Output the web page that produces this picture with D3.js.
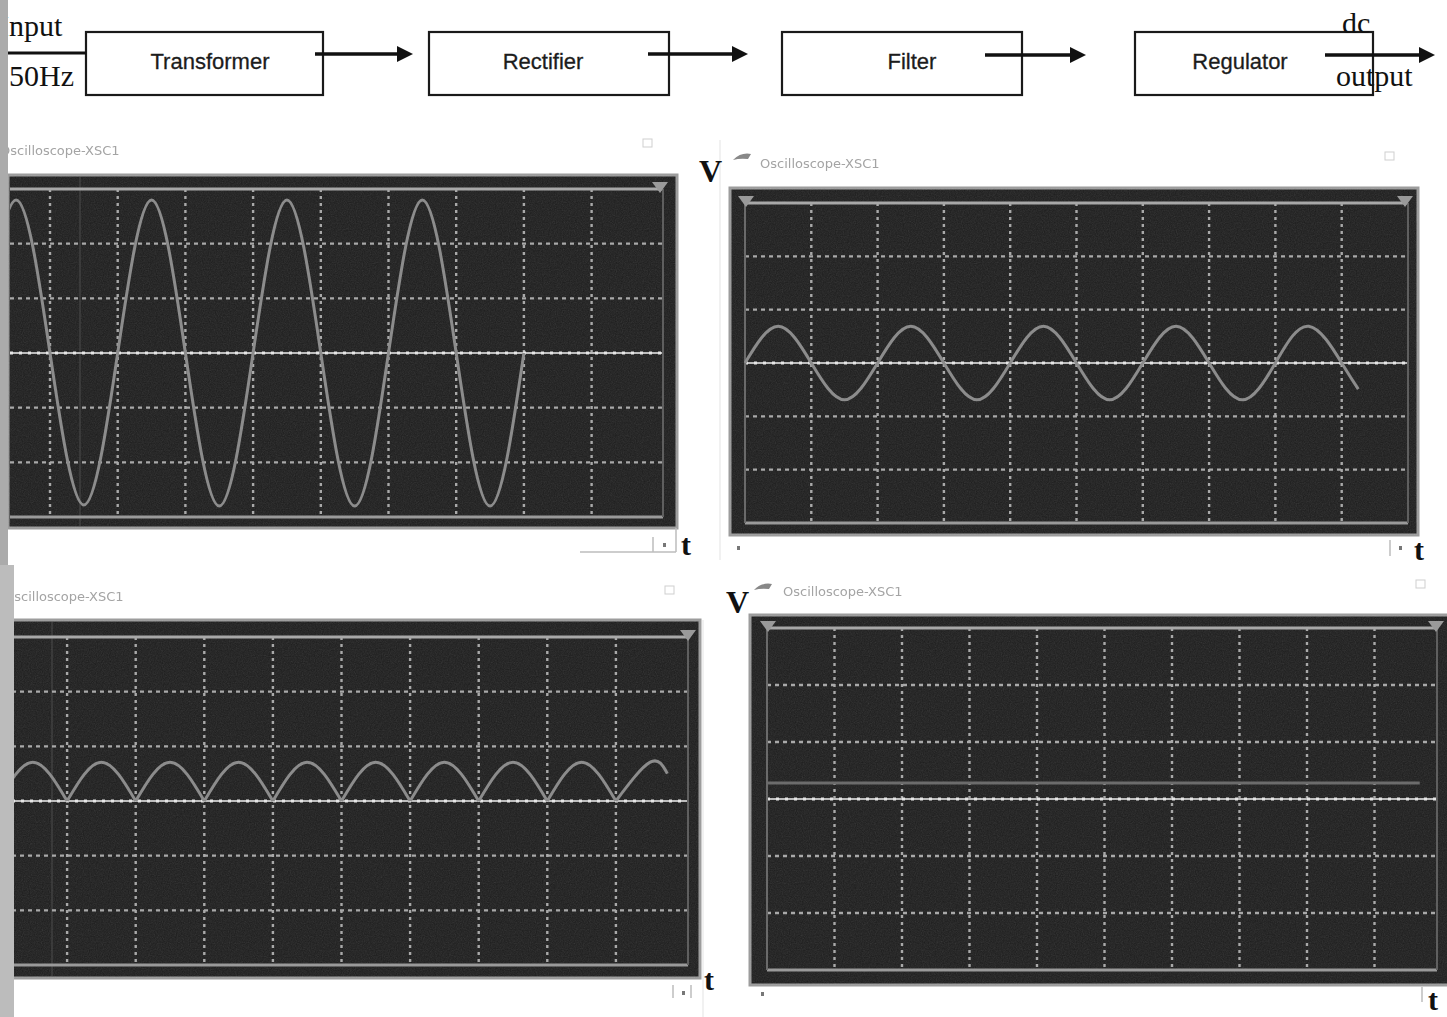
<!DOCTYPE html>
<html>
<head>
<meta charset="utf-8">
<script src="https://cdn.jsdelivr.net/npm/d3@7"></script>
<style>
  body { margin: 0; background: #fff; }
  svg { display: block; }
</style>
</head>
<body>
<div id="chart"></div>
<script>
// block diagram
const blockLabels = ["Transformer", "Rectifier", "Filter", "Regulator"];
const scopeTitle = "Oscilloscope-XSC1";

const inputTrace = [[0,0],[0.5,2.8],[1,0],[1.5,-2.78],[2,0],[2.5,2.8],[3,0],[3.5,-2.8],[4,0],
  [4.5,2.8],[5,0],[5.5,-2.8],[6,0],[6.5,2.8],[7,0],[7.5,-2.8],[8,0]];
const transformerTrace = [[0,0],[0.5,0.69],[1,0],[1.5,-0.69],[2,0],[2.5,0.69],[3,0],[3.5,-0.69],
  [4,0],[4.5,0.69],[5,0],[5.5,-0.69],[6,0],[6.5,0.69],[7,0],[7.5,-0.69],[8,0],[8.5,0.69],[9,0],[9.25,-0.49]];
const rectifierTrace = [[0,0],[0.5,0.71],[1,0],[1.5,0.71],[2,0],[2.5,0.71],[3,0],[3.5,0.71],[4,0],
  [4.5,0.71],[5,0],[5.5,0.71],[6,0],[6.5,0.71],[7,0],[7.5,0.71],[8,0],[8.5,0.71],[9,0],[9.5,0.71],[9.75,0.5]];
const regulatorTrace = [[0,0.28],[9.67,0.28]];

const W = 1447, H = 1017;

const svg = d3.select("#chart").append("svg")
  .attr("width", W)
  .attr("height", H)
  .attr("viewBox", `0 0 ${W} ${H}`);

const defs = svg.append("defs");
const grain = defs.append("filter").attr("id", "grain")
  .attr("x", 0).attr("y", 0).attr("width", 1).attr("height", 1);
grain.append("feTurbulence").attr("type", "fractalNoise").attr("baseFrequency", 0.85)
  .attr("numOctaves", 2).attr("seed", 4);
grain.append("feColorMatrix").attr("type", "saturate").attr("values", 0);
grain.append("feComponentTransfer").append("feFuncA").attr("type", "table").attr("tableValues", "0 0.16");

defs.append("filter").attr("id", "soft").append("feGaussianBlur").attr("stdDeviation", 0.7);

// ---------- block diagram ----------
const boxes = [[86, 32, 323, 95], [429, 32, 669, 95], [782, 32, 1022, 95], [1135, 32, 1373, 95]];
const labelX = [210, 543, 912, 1240];
const arrows = [[315, 413, 54], [648, 748, 54], [985, 1086, 55], [1325, 1435, 55]];

const diagram = svg.append("g").attr("class", "diagram");

diagram.selectAll("rect.block")
  .data(boxes)
  .join("rect")
  .attr("class", "block")
  .attr("x", d => d[0]).attr("y", d => d[1])
  .attr("width", d => d[2] - d[0]).attr("height", d => d[3] - d[1])
  .attr("fill", "none").attr("stroke", "#1a1a1a").attr("stroke-width", 2.2);

diagram.selectAll("text.blockLabel")
  .data(blockLabels)
  .join("text")
  .attr("class", "blockLabel")
  .attr("x", (d, i) => labelX[i]).attr("y", 69)
  .attr("text-anchor", "middle")
  .attr("font-family", "Liberation Sans, Arial, sans-serif")
  .attr("font-size", 22)
  .attr("fill", "#1c1c1c")
  .attr("stroke", "#1c1c1c").attr("stroke-width", 0.3)
  .text(d => d);

// input line
diagram.append("line").attr("x1", 0).attr("x2", 86).attr("y1", 53).attr("y2", 53)
  .attr("stroke", "#111").attr("stroke-width", 3);

arrows.forEach(a => {
  diagram.append("line").attr("x1", a[0]).attr("x2", a[1] - 12).attr("y1", a[2]).attr("y2", a[2])
    .attr("stroke", "#111").attr("stroke-width", 3.5);
  diagram.append("path")
    .attr("d", `M${a[1]},${a[2]} L${a[1] - 16},${a[2] - 8} L${a[1] - 16},${a[2] + 8} Z`)
    .attr("fill", "#111");
});

const serif = "Liberation Serif, Times New Roman, serif";
diagram.append("text").attr("x", -1).attr("y", 36).attr("font-family", serif).attr("font-size", 30)
  .attr("fill", "#111").text("Input");
diagram.append("text").attr("x", 9).attr("y", 86).attr("font-family", serif).attr("font-size", 30)
  .attr("fill", "#111").text("50Hz");
diagram.append("text").attr("x", 1342).attr("y", 33).attr("font-family", serif).attr("font-size", 30)
  .attr("fill", "#111").text("dc");
diagram.append("text").attr("x", 1336).attr("y", 86).attr("font-family", serif).attr("font-size", 30)
  .attr("fill", "#111").text("output");

// ---------- oscilloscope screens ----------
const scopes = [
  { trace: inputTrace, frame: [8, 175, 677, 528], xr: [-17.7, 659.3], yr: [517, 189],
    rightEdge: 663, leftEdge: null, markers: [660], cursor: 80,
    title: [0, 155], icon: null, closeBox: [643, 139] },
  { trace: transformerTrace, frame: [730, 188, 1418, 535], xr: [745, 1408], yr: [523, 203],
    rightEdge: 1408, leftEdge: 745, markers: [746, 1405], cursor: null,
    title: [760, 168], icon: [733, 160], closeBox: [1385, 152] },
  { trace: rectifierTrace, cusps: true, frame: [10, 620, 700, 978], xr: [-1.5, 684.5], yr: [965, 637],
    rightEdge: 688, leftEdge: null, markers: [688], cursor: 52,
    title: [4, 601], icon: null, closeBox: [665, 586] },
  { trace: regulatorTrace, frame: [750, 615, 1452, 985], xr: [767, 1442], yr: [970, 628],
    rightEdge: 1437, leftEdge: 767, markers: [768, 1436], cursor: null, dim: true,
    title: [783, 596], icon: [754, 590], closeBox: [1416, 580] }
];

scopes.forEach((s, k) => {
  const g = svg.append("g").attr("class", "scope scope" + k);
  const [fx0, fy0, fx1, fy1] = s.frame;
  const x = d3.scaleLinear().domain([0, 10]).range(s.xr);
  const y = d3.scaleLinear().domain([-3, 3]).range(s.yr);

  const clipId = "clip" + k;
  defs.append("clipPath").attr("id", clipId)
    .append("rect").attr("x", fx0 + 2).attr("y", fy0 + 2)
    .attr("width", fx1 - fx0 - 4).attr("height", fy1 - fy0 - 4);

  // title
  if (s.icon) {
    g.append("path")
      .attr("d", `M${s.icon[0]},${s.icon[1]} q8,-8 18,-6 l-3,5 q-8,-1 -15,1 z`)
      .attr("fill", "#888");
  }
  g.append("text").attr("x", s.title[0]).attr("y", s.title[1])
    .attr("font-family", "DejaVu Sans, sans-serif").attr("font-size", 13)
    .attr("fill", "#a4a4a4").attr("filter", "url(#soft)")
    .text(scopeTitle);
  g.append("rect").attr("x", s.closeBox[0]).attr("y", s.closeBox[1]).attr("width", 9).attr("height", 8)
    .attr("fill", "none").attr("stroke", "#cfcfcf").attr("stroke-width", 1);

  // frame
  g.append("rect").attr("x", fx0).attr("y", fy0).attr("width", fx1 - fx0).attr("height", fy1 - fy0)
    .attr("fill", "#1c1c1c").attr("stroke", "#9c9c9c").attr("stroke-width", 3);
  g.append("rect").attr("x", fx0).attr("y", fy0).attr("width", fx1 - fx0).attr("height", fy1 - fy0)
    .attr("fill", "#fff").attr("filter", "url(#grain)");

  const screen = g.append("g").attr("clip-path", `url(#${clipId})`).attr("filter", "url(#soft)");
  const plotL = Math.max(s.xr[0], fx0 + 2), plotR = s.rightEdge;

  if (s.cursor) {
    screen.append("line").attr("x1", s.cursor).attr("x2", s.cursor).attr("y1", fy0).attr("y2", fy1)
      .attr("stroke", "#4a4a4a").attr("stroke-width", 1);
  }

  // vertical grid
  screen.selectAll("line.vgrid")
    .data(d3.range(1, 10))
    .join("line")
    .attr("class", "vgrid")
    .attr("x1", d => x(d)).attr("x2", d => x(d))
    .attr("y1", y(3)).attr("y2", y(-3))
    .attr("stroke", "#a9a9a9").attr("stroke-width", 2.4)
    .attr("stroke-dasharray", "3,4");

  // horizontal grid
  screen.selectAll("line.hgrid")
    .data([-2, -1, 1, 2])
    .join("line")
    .attr("class", "hgrid")
    .attr("x1", plotL).attr("x2", plotR)
    .attr("y1", d => y(d)).attr("y2", d => y(d))
    .attr("stroke", "#a9a9a9").attr("stroke-width", 2.4)
    .attr("stroke-dasharray", "4,4");

  // centre line
  screen.append("line").attr("x1", plotL).attr("x2", plotR).attr("y1", y(0)).attr("y2", y(0))
    .attr("stroke", "#bdbdbd").attr("stroke-width", 2.2);
  screen.append("line").attr("x1", plotL).attr("x2", plotR).attr("y1", y(0)).attr("y2", y(0))
    .attr("stroke", "#e6e6e6").attr("stroke-width", 3).attr("stroke-dasharray", "3,6");

  // top / bottom / side edges
  screen.append("line").attr("x1", plotL).attr("x2", plotR).attr("y1", y(3)).attr("y2", y(3))
    .attr("stroke", "#a8a8a8").attr("stroke-width", 3);
  screen.append("line").attr("x1", plotL).attr("x2", plotR).attr("y1", y(-3)).attr("y2", y(-3))
    .attr("stroke", "#9a9a9a").attr("stroke-width", 3);
  screen.append("line").attr("x1", plotR).attr("x2", plotR).attr("y1", y(3)).attr("y2", y(-3))
    .attr("stroke", "#5e5e5e").attr("stroke-width", 2);
  if (s.leftEdge) {
    screen.append("line").attr("x1", s.leftEdge).attr("x2", s.leftEdge).attr("y1", y(3)).attr("y2", y(-3))
      .attr("stroke", "#6a6a6a").attr("stroke-width", 2);
  }

  // trigger markers
  s.markers.forEach(m => {
    screen.append("path")
      .attr("d", `M${m - 8},${y(3) - 7} L${m + 8},${y(3) - 7} L${m},${y(3) + 4} Z`)
      .attr("fill", "#9a9a9a");
  });

  // trace
  const line = d3.line().x(d => x(d[0])).y(d => y(d[1])).curve(d3.curveNatural);
  let pieces = [s.trace];
  if (s.cusps) {
    pieces = [];
    let cur = [];
    s.trace.forEach((p, i) => {
      cur.push(p);
      if (p[1] === 0 && i > 0) { pieces.push(cur); cur = [p]; }
    });
    if (cur.length > 1) pieces.push(cur);
  }
  screen.selectAll("path.trace")
    .data(pieces)
    .join("path")
    .attr("class", "trace")
    .attr("d", line)
    .attr("fill", "none")
    .attr("stroke", s.dim ? "#6c6c6c" : "#8c8c8c")
    .attr("stroke-width", 3)
    .attr("stroke-linejoin", "round");
});

// bits of window chrome under the screens
const chrome = svg.append("g").attr("stroke", "#bdbdbd").attr("stroke-width", 1.5).attr("fill", "none");
chrome.append("line").attr("x1", 580).attr("x2", 676).attr("y1", 552).attr("y2", 552);
chrome.append("line").attr("x1", 653).attr("x2", 653).attr("y1", 537).attr("y2", 552);
chrome.append("line").attr("x1", 676).attr("x2", 676).attr("y1", 528).attr("y2", 552);
chrome.append("line").attr("x1", 1390).attr("x2", 1390).attr("y1", 540).attr("y2", 556);
chrome.append("line").attr("x1", 673).attr("x2", 673).attr("y1", 985).attr("y2", 998);
chrome.append("line").attr("x1", 691).attr("x2", 691).attr("y1", 985).attr("y2", 998);
chrome.append("line").attr("x1", 1422).attr("x2", 1422).attr("y1", 987).attr("y2", 1002);
chrome.append("line").attr("x1", 720).attr("x2", 720).attr("y1", 140).attr("y2", 560).attr("stroke", "#ececec");
chrome.append("line").attr("x1", 703).attr("x2", 703).attr("y1", 620).attr("y2", 1017).attr("stroke", "#ececec");
[[664, 545], [738, 548], [1400, 548], [683, 993], [762, 994]].forEach(d => {
  svg.append("rect").attr("x", d[0] - 1).attr("y", d[1] - 2).attr("width", 3).attr("height", 4).attr("fill", "#777");
});

// axis letters
const letters = [["V", 699, 182], ["V", 726, 613], ["t", 681, 555], ["t", 1414, 560], ["t", 704, 990], ["t", 1428, 1010]];
svg.selectAll("text.axisLetter")
  .data(letters)
  .join("text")
  .attr("class", "axisLetter")
  .attr("x", d => d[1]).attr("y", d => d[2])
  .attr("font-family", serif)
  .attr("font-weight", "bold")
  .attr("font-size", d => d[0] === "V" ? 32 : 30)
  .attr("fill", "#111")
  .text(d => d[0]);

// grey strip at the left edge of the scan
svg.append("rect").attr("x", 0).attr("y", 0).attr("width", 8).attr("height", 565).attr("fill", "#ababab");
svg.append("rect").attr("x", 0).attr("y", 565).attr("width", 14).attr("height", H - 565).attr("fill", "#bcbcbc");
</script>
</body>
</html>
